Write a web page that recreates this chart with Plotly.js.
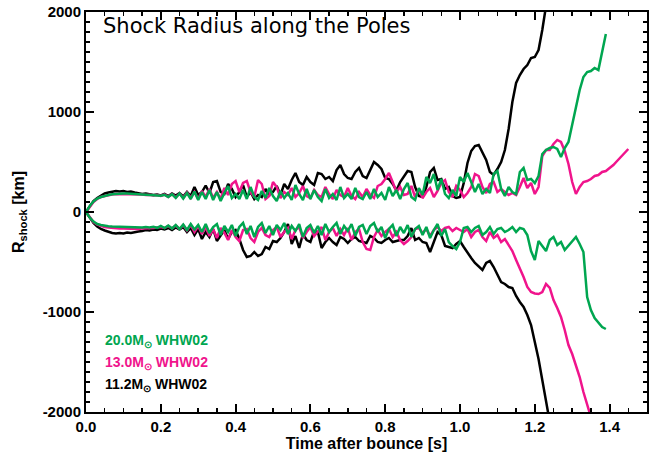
<!DOCTYPE html>
<html><head><meta charset="utf-8">
<script src="https://cdn.plot.ly/plotly-3.0.1.min.js"></script>
<style>html,body{margin:0;padding:0;background:#fff}#plot{width:651px;height:455px}</style>
</head><body><div id="plot"></div>
<script>
// Time after bounce [s]
const T = [0.00,0.01,0.02,0.03,0.04,0.05,0.06,0.07,0.08,0.09,0.10,0.11,0.12,0.13,0.14,0.15,0.16,0.17,0.18,0.19,
0.20,0.21,0.22,0.23,0.24,0.25,0.26,0.27,0.28,0.29,0.30,0.31,0.32,0.33,0.34,0.35,0.36,0.37,0.38,0.39,
0.40,0.41,0.42,0.43,0.44,0.45,0.46,0.47,0.48,0.49,0.50,0.51,0.52,0.53,0.54,0.55,0.56,0.57,0.58,0.59,
0.60,0.61,0.62,0.63,0.64,0.65,0.66,0.67,0.68,0.69,0.70,0.71,0.72,0.73,0.74,0.75,0.76,0.77,0.78,0.79,
0.80,0.81,0.82,0.83,0.84,0.85,0.86,0.87,0.88,0.89,0.90,0.91,0.92,0.93,0.94,0.95,0.96,0.97,0.98,0.99,
1.00,1.01,1.02,1.03,1.04,1.05,1.06,1.07,1.08,1.09,1.10,1.11,1.12,1.13,1.14,1.15,1.16,1.17,1.18,1.19,
1.20,1.21,1.22,1.23,1.24,1.25,1.26,1.27,1.28,1.29,1.30,1.31,1.32,1.33,1.34,1.35,1.36,1.37,1.38,1.39,
1.40,1.41,1.42,1.43,1.44,1.45];

// 11.2 Msun WHW02 (black) - north pole / south pole shock radius [km]
const m112_north = [0,60,110,140,165,185,195,205,210,205,210,200,205,195,190,180,185,175,170,175,
165,180,160,185,165,190,155,200,160,250,170,200,265,190,300,310,200,180,280,230,
150,200,270,150,200,130,170,150,230,170,200,260,170,280,230,320,390,300,270,350,
300,270,390,380,330,350,310,420,470,380,340,330,400,440,360,340,420,500,470,430,
340,330,280,215,300,360,410,400,250,160,150,250,400,440,320,330,230,250,160,140,
150,290,490,610,660,670,600,520,400,370,430,500,620,830,1100,1290,1370,1430,1470,1540,
1550,1620,1820,2050,2300];
const m112_south = [0,-60,-110,-145,-170,-185,-200,-210,-215,-210,-215,-205,-210,-200,-195,-190,-180,-185,-175,-180,
-165,-175,-160,-180,-155,-175,-150,-200,-160,-230,-170,-270,-200,-250,-170,-290,-230,-180,-270,-200,
-180,-270,-380,-450,-440,-400,-440,-420,-350,-370,-290,-300,-260,-200,-120,-320,-240,-360,-220,-280,
-300,-190,-200,-360,-300,-260,-300,-330,-250,-270,-310,-270,-250,-290,-300,-310,-240,-260,-300,-310,
-280,-260,-300,-290,-280,-280,-240,-160,-280,-260,-300,-310,-400,-300,-200,-230,-340,-350,-360,-320,
-290,-350,-410,-460,-510,-550,-580,-510,-490,-550,-620,-700,-720,-750,-760,-840,-900,-950,-1030,-1130,
-1300,-1470,-1680,-1900,-2100];

// 13.0 Msun WHW02 (magenta)
const m130_north = [0,55,100,130,150,160,170,175,180,180,180,182,180,178,175,175,170,172,165,170,
160,175,150,180,145,185,140,195,140,200,130,210,150,230,140,200,130,240,170,280,
310,200,290,310,200,150,320,280,130,160,300,250,140,200,170,240,150,190,260,160,
140,220,170,150,250,180,130,220,170,150,240,160,130,200,150,230,170,140,260,280,
330,390,300,200,250,170,180,260,150,230,140,200,240,150,210,290,320,200,150,260,
220,150,190,250,380,360,250,190,280,300,200,230,200,170,190,170,250,340,240,290,
180,250,560,620,620,680,720,700,610,480,300,180,250,300,310,330,360,370,400,410,
440,470,510,550,580,630];
const m130_south = [0,-55,-100,-125,-140,-150,-155,-160,-160,-165,-165,-168,-170,-168,-170,-165,-165,-160,-160,-155,
-150,-160,-140,-165,-135,-170,-130,-185,-130,-200,-140,-220,-150,-240,-170,-260,-160,-210,-280,-180,
-250,-290,-180,-170,-260,-300,-200,-160,-230,-250,-180,-150,-250,-200,-160,-270,-180,-150,-260,-200,
-150,-240,-190,-150,-280,-200,-160,-240,-170,-230,-160,-280,-200,-170,-300,-370,-380,-250,-180,-240,
-200,-170,-250,-200,-280,-320,-290,-250,-170,-160,-210,-170,-240,-180,-150,-190,-160,-150,-190,-160,
-180,-200,-170,-250,-200,-180,-250,-290,-200,-260,-230,-300,-270,-330,-390,-480,-560,-650,-750,-800,
-815,-820,-800,-720,-760,-880,-960,-1050,-1180,-1330,-1420,-1530,-1650,-1800,-1930,-2050];

// 20.0 Msun WHW02 (green)
const m200_north = [0,60,105,135,150,162,170,178,182,185,185,185,182,180,178,175,172,170,168,165,
162,172,150,178,140,185,135,190,130,205,120,200,130,220,120,200,110,190,260,140,
180,130,220,130,250,150,120,210,140,240,160,110,210,140,190,120,270,180,120,230,
130,220,150,110,230,140,180,120,250,140,180,130,240,150,130,200,130,230,150,190,
120,250,160,220,130,230,290,150,120,240,170,350,290,380,220,330,180,140,220,160,
350,300,390,300,200,280,180,230,190,380,410,230,160,250,200,180,400,440,320,330,
290,360,580,620,640,650,630,550,640,700,880,1040,1220,1350,1400,1410,1440,1420,1620,1780];
const m200_south = [0,-55,-95,-120,-130,-138,-142,-146,-148,-150,-152,-153,-154,-154,-155,-155,-150,-155,-148,-158,
-140,-160,-135,-165,-130,-170,-125,-180,-120,-175,-130,-200,-120,-210,-150,-120,-230,-140,-200,-130,
-240,-150,-110,-220,-140,-250,-150,-110,-210,-140,-230,-130,-180,-110,-220,-140,-190,-120,-250,-160,
-130,-210,-140,-230,-120,-200,-150,-110,-220,-140,-190,-120,-240,-150,-130,-220,-140,-110,-200,-150,
-260,-170,-130,-240,-150,-210,-130,-250,-170,-140,-230,-150,-260,-180,-120,-240,-170,-300,-340,-370,
-300,-160,-150,-200,-160,-140,-230,-200,-150,-220,-170,-160,-200,-180,-150,-200,-160,-170,-230,-390,
-480,-290,-340,-390,-280,-250,-330,-300,-380,-340,-300,-250,-320,-400,-850,-980,-1060,-1100,-1150,-1170];

const yTickVals = [-2000,-1000,0,1000,2000];
const yTickText = ['-2000','-1000','0','1000','2000'];
const xTickVals = [0.0,0.2,0.4,0.6,0.8,1.0,1.2,1.4];
const xTickText = ['0.0','0.2','0.4','0.6','0.8','1.0','1.2','1.4'];

const BLACK = '#000000', MAGENTA = '#f0148c', GREEN = '#00a650';
const lw = 2.5;
function tr(y, c){ return {x: T.slice(0, y.length), y: y, mode: 'lines', line: {color: c, width: lw}, hoverinfo: 'skip', showlegend: false}; }

const data = [
  tr(m112_north, BLACK), tr(m112_south, BLACK),
  tr(m130_north, MAGENTA), tr(m130_south, MAGENTA),
  tr(m200_north, GREEN), tr(m200_south, GREEN),
  // invisible trace that carries the top/right tick axes
  {x: [0], y: [0], xaxis: 'x2', yaxis: 'y2', mode: 'markers', marker: {opacity: 0}, hoverinfo: 'skip', showlegend: false}
];

const tickFont = {family: 'Liberation Sans, Arial, sans-serif', size: 15, color: '#000', weight: 'bold'};
const titleFont = {family: 'Liberation Sans, Arial, sans-serif', size: 16, color: '#000', weight: 'bold'};
const legFont = (c) => ({family: 'Liberation Sans, Arial, sans-serif', size: 14, color: c, weight: 'bold'});
const frameTicks = {ticks: 'inside', ticklen: 8, tickwidth: 2, tickcolor: '#000', showgrid: false, zeroline: false, showticklabels: false};

const layout = {
  width: 651, height: 455,
  margin: {l: 86, r: 4, t: 12, b: 43},
  paper_bgcolor: '#fff', plot_bgcolor: '#fff',
  xaxis: {
    range: [0, 1.5], tickvals: xTickVals, ticktext: xTickText,
    ticks: 'inside', ticklen: 8, tickwidth: 2, tickcolor: '#000',
    showline: true, linewidth: 2, linecolor: '#000', mirror: 'ticks',
    showgrid: false, zeroline: false, tickfont: tickFont,
    minor: {dtick: 0.05, ticks: 'inside', ticklen: 4, tickwidth: 1.5, tickcolor: '#000', showgrid: false},
    title: {text: 'Time after bounce [s]', font: titleFont, standoff: 4}
  },
  yaxis: {
    range: [-2000, 2000], tickvals: yTickVals, ticktext: yTickText,
    ticks: 'inside', ticklen: 8, tickwidth: 2, tickcolor: '#000',
    showline: true, linewidth: 2, linecolor: '#000', mirror: 'ticks',
    showgrid: false, zeroline: false, tickfont: tickFont,
    minor: {dtick: 100, ticks: 'inside', ticklen: 4, tickwidth: 1.5, tickcolor: '#000', showgrid: false},
    title: {text: 'R<sub>shock</sub> [km]', font: titleFont, standoff: 14}
  },
  xaxis2: Object.assign({overlaying: 'x', side: 'top', anchor: 'y2', range: [0, 1.5], tickvals: xTickVals,
    minor: {dtick: 0.05, ticks: 'inside', ticklen: 4, tickwidth: 1.5, tickcolor: '#000', showgrid: false}}, frameTicks),
  yaxis2: Object.assign({overlaying: 'y', side: 'right', anchor: 'x2', range: [-2000, 2000], tickvals: yTickVals,
    minor: {dtick: 100, ticks: 'inside', ticklen: 4, tickwidth: 1.5, tickcolor: '#000', showgrid: false}}, frameTicks),
  annotations: [
    {text: 'Shock Radius along the Poles', xref: 'paper', yref: 'paper', x: 0.026, y: 0.964, xanchor: 'left', yanchor: 'middle', showarrow: false,
     font: {family: 'DejaVu Sans, sans-serif', size: 21, color: '#000'}},
    {text: '20.0M<sub>⊙</sub> WHW02', xref: 'paper', yref: 'paper', x: 0.03, y: 0.178, xanchor: 'left', yanchor: 'middle', showarrow: false, font: legFont(GREEN)},
    {text: '13.0M<sub>⊙</sub> WHW02', xref: 'paper', yref: 'paper', x: 0.03, y: 0.123, xanchor: 'left', yanchor: 'middle', showarrow: false, font: legFont(MAGENTA)},
    {text: '11.2M<sub>⊙</sub> WHW02', xref: 'paper', yref: 'paper', x: 0.03, y: 0.068, xanchor: 'left', yanchor: 'middle', showarrow: false, font: legFont(BLACK)}
  ]
};

Plotly.newPlot('plot', data, layout, {displayModeBar: false, staticPlot: true});
</script></body></html>
